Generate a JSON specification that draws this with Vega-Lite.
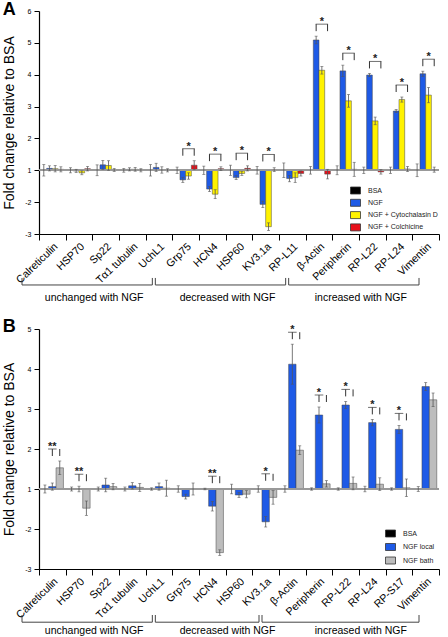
{
  "$schema": "https://vega.github.io/schema/vega-lite/v6.json",
  "background": "white",
  "padding": {"left": 2, "top": 0, "right": 0, "bottom": 0},
  "spacing": 13,
  "config": {
    "font": "Liberation Sans",
    "view": {"stroke": null},
    "axis": {"domainColor": "black", "tickColor": "black", "labelColor": "black", "titleColor": "black", "grid": false, "labelFont": "Liberation Sans", "titleFont": "Liberation Sans", "labelOverlap": false},
    "legend": {"labelFont": "Liberation Sans"},
    "title": {"font": "Liberation Sans", "color": "black"}
  },
  "resolve": {"scale": {"x": "independent", "y": "independent", "color": "independent", "xOffset": "independent"}, "legend": {"color": "independent"}},
  "datasets": {
    "a": [
      {"cat": "Calreticulin", "series": "BSA", "value": 1, "lo": 0.82, "hi": 1.18},
      {"cat": "Calreticulin", "series": "NGF", "value": 1.06, "lo": 0.98, "hi": 1.14},
      {"cat": "Calreticulin", "series": "NGF + Cytochalasin D", "value": 1.05, "lo": 0.95, "hi": 1.15},
      {"cat": "Calreticulin", "series": "NGF + Colchicine", "value": 1.03, "lo": 0.95, "hi": 1.11},
      {"cat": "HSP70", "series": "BSA", "value": 1, "lo": 0.92, "hi": 1.08},
      {"cat": "HSP70", "series": "NGF", "value": 0.98, "lo": 0.93, "hi": 1.03},
      {"cat": "HSP70", "series": "NGF + Cytochalasin D", "value": 0.92, "lo": 0.86, "hi": 0.98},
      {"cat": "HSP70", "series": "NGF + Colchicine", "value": 1.05, "lo": 0.98, "hi": 1.12},
      {"cat": "Sp22", "series": "BSA", "value": 1, "lo": 0.83, "hi": 1.17},
      {"cat": "Sp22", "series": "NGF", "value": 1.17, "lo": 1.03, "hi": 1.31},
      {"cat": "Sp22", "series": "NGF + Cytochalasin D", "value": 1.15, "lo": 1.0, "hi": 1.3},
      {"cat": "Sp22", "series": "NGF + Colchicine", "value": 1.01, "lo": 0.96, "hi": 1.06},
      {"cat": "Tα1 tubulin", "series": "BSA", "value": 1, "lo": 0.94, "hi": 1.06},
      {"cat": "Tα1 tubulin", "series": "NGF", "value": 1.03, "lo": 0.98, "hi": 1.08},
      {"cat": "Tα1 tubulin", "series": "NGF + Cytochalasin D", "value": 1.03, "lo": 0.97, "hi": 1.09},
      {"cat": "Tα1 tubulin", "series": "NGF + Colchicine", "value": 1.0, "lo": 0.95, "hi": 1.05},
      {"cat": "UchL1", "series": "BSA", "value": 1, "lo": 0.82, "hi": 1.18},
      {"cat": "UchL1", "series": "NGF", "value": 1.09, "lo": 0.96, "hi": 1.22},
      {"cat": "UchL1", "series": "NGF + Cytochalasin D", "value": 1.01, "lo": 0.91, "hi": 1.11},
      {"cat": "UchL1", "series": "NGF + Colchicine", "value": 1.0, "lo": 0.95, "hi": 1.05},
      {"cat": "Grp75", "series": "BSA", "value": 1, "lo": 0.9, "hi": 1.1},
      {"cat": "Grp75", "series": "NGF", "value": 0.7, "lo": 0.62, "hi": 0.78, "sig": "*"},
      {"cat": "Grp75", "series": "NGF + Cytochalasin D", "value": 0.82, "lo": 0.72, "hi": 0.92},
      {"cat": "Grp75", "series": "NGF + Colchicine", "value": 1.16, "lo": 1.02, "hi": 1.3},
      {"cat": "HCN4", "series": "BSA", "value": 1, "lo": 0.87, "hi": 1.13},
      {"cat": "HCN4", "series": "NGF", "value": 0.41, "lo": 0.33, "hi": 0.49, "sig": "*"},
      {"cat": "HCN4", "series": "NGF + Cytochalasin D", "value": 0.25, "lo": 0.11, "hi": 0.39},
      {"cat": "HCN4", "series": "NGF + Colchicine", "value": 1.05, "lo": 0.99, "hi": 1.11},
      {"cat": "HSP60", "series": "BSA", "value": 1, "lo": 0.84, "hi": 1.16},
      {"cat": "HSP60", "series": "NGF", "value": 0.77, "lo": 0.71, "hi": 0.83, "sig": "*"},
      {"cat": "HSP60", "series": "NGF + Cytochalasin D", "value": 0.9, "lo": 0.84, "hi": 0.96},
      {"cat": "HSP60", "series": "NGF + Colchicine", "value": 1.06, "lo": 0.98, "hi": 1.14},
      {"cat": "KV3.1a", "series": "BSA", "value": 1, "lo": 0.88, "hi": 1.12},
      {"cat": "KV3.1a", "series": "NGF", "value": -0.07, "lo": -0.17, "hi": 0.03, "sig": "*"},
      {"cat": "KV3.1a", "series": "NGF + Cytochalasin D", "value": -0.77, "lo": -0.89, "hi": -0.65},
      {"cat": "KV3.1a", "series": "NGF + Colchicine", "value": 1.02, "lo": 0.96, "hi": 1.08},
      {"cat": "RP-L11", "series": "BSA", "value": 1, "lo": 0.77, "hi": 1.23},
      {"cat": "RP-L11", "series": "NGF", "value": 0.74, "lo": 0.64, "hi": 0.84},
      {"cat": "RP-L11", "series": "NGF + Cytochalasin D", "value": 0.77, "lo": 0.62, "hi": 0.92},
      {"cat": "RP-L11", "series": "NGF + Colchicine", "value": 0.9, "lo": 0.82, "hi": 0.98},
      {"cat": "β-Actin", "series": "BSA", "value": 1, "lo": 0.88, "hi": 1.12},
      {"cat": "β-Actin", "series": "NGF", "value": 5.09, "lo": 4.97, "hi": 5.21, "sig": "*"},
      {"cat": "β-Actin", "series": "NGF + Cytochalasin D", "value": 4.14, "lo": 4.02, "hi": 4.26},
      {"cat": "β-Actin", "series": "NGF + Colchicine", "value": 0.88, "lo": 0.73, "hi": 1.03},
      {"cat": "Peripherin", "series": "BSA", "value": 1, "lo": 0.86, "hi": 1.14},
      {"cat": "Peripherin", "series": "NGF", "value": 4.12, "lo": 3.94, "hi": 4.3, "sig": "*"},
      {"cat": "Peripherin", "series": "NGF + Cytochalasin D", "value": 3.18, "lo": 2.98, "hi": 3.38},
      {"cat": "Peripherin", "series": "NGF + Colchicine", "value": 1.03, "lo": 0.81, "hi": 1.25},
      {"cat": "RP-L22", "series": "BSA", "value": 1, "lo": 0.9, "hi": 1.1},
      {"cat": "RP-L22", "series": "NGF", "value": 3.99, "lo": 3.94, "hi": 4.04, "sig": "*"},
      {"cat": "RP-L22", "series": "NGF + Cytochalasin D", "value": 2.55, "lo": 2.43, "hi": 2.67},
      {"cat": "RP-L22", "series": "NGF + Colchicine", "value": 0.95, "lo": 0.88, "hi": 1.02},
      {"cat": "RP-L24", "series": "BSA", "value": 1, "lo": 0.9, "hi": 1.1},
      {"cat": "RP-L24", "series": "NGF", "value": 2.86, "lo": 2.81, "hi": 2.91, "sig": "*"},
      {"cat": "RP-L24", "series": "NGF + Cytochalasin D", "value": 3.22, "lo": 3.14, "hi": 3.3},
      {"cat": "RP-L24", "series": "NGF + Colchicine", "value": 1.04, "lo": 0.96, "hi": 1.12},
      {"cat": "Vimentin", "series": "BSA", "value": 1, "lo": 0.8, "hi": 1.2},
      {"cat": "Vimentin", "series": "NGF", "value": 4.03, "lo": 3.95, "hi": 4.11, "sig": "*"},
      {"cat": "Vimentin", "series": "NGF + Cytochalasin D", "value": 3.36, "lo": 3.12, "hi": 3.6},
      {"cat": "Vimentin", "series": "NGF + Colchicine", "value": 1.02, "lo": 0.94, "hi": 1.1}
    ],
    "b": [
      {"cat": "Calreticulin", "series": "BSA", "value": 1, "lo": 0.9, "hi": 1.1},
      {"cat": "Calreticulin", "series": "NGF local", "value": 1.06, "lo": 0.97, "hi": 1.15, "sig": "**"},
      {"cat": "Calreticulin", "series": "NGF bath", "value": 1.53, "lo": 1.36, "hi": 1.7},
      {"cat": "HSP70", "series": "BSA", "value": 1, "lo": 0.95, "hi": 1.05},
      {"cat": "HSP70", "series": "NGF local", "value": 1.0, "lo": 0.93, "hi": 1.07, "sig": "**"},
      {"cat": "HSP70", "series": "NGF bath", "value": 0.52, "lo": 0.34, "hi": 0.7},
      {"cat": "Sp22", "series": "BSA", "value": 1, "lo": 0.95, "hi": 1.05},
      {"cat": "Sp22", "series": "NGF local", "value": 1.1, "lo": 0.93, "hi": 1.27},
      {"cat": "Sp22", "series": "NGF bath", "value": 1.06, "lo": 0.98, "hi": 1.14},
      {"cat": "Tα1 tubulin", "series": "BSA", "value": 1, "lo": 0.95, "hi": 1.05},
      {"cat": "Tα1 tubulin", "series": "NGF local", "value": 1.08, "lo": 1.0, "hi": 1.16},
      {"cat": "Tα1 tubulin", "series": "NGF bath", "value": 1.04, "lo": 0.94, "hi": 1.14},
      {"cat": "UchL1", "series": "BSA", "value": 1, "lo": 0.97, "hi": 1.03},
      {"cat": "UchL1", "series": "NGF local", "value": 1.06, "lo": 0.97, "hi": 1.15},
      {"cat": "UchL1", "series": "NGF bath", "value": 1.02, "lo": 0.82, "hi": 1.22},
      {"cat": "Grp75", "series": "BSA", "value": 1, "lo": 0.92, "hi": 1.08},
      {"cat": "Grp75", "series": "NGF local", "value": 0.81, "lo": 0.75, "hi": 0.87},
      {"cat": "Grp75", "series": "NGF bath", "value": 1.0, "lo": 0.85, "hi": 1.15},
      {"cat": "HCN4", "series": "BSA", "value": 1, "lo": 0.98, "hi": 1.02},
      {"cat": "HCN4", "series": "NGF local", "value": 0.57, "lo": 0.45, "hi": 0.69, "sig": "**"},
      {"cat": "HCN4", "series": "NGF bath", "value": -0.59, "lo": -0.66, "hi": -0.52},
      {"cat": "HSP60", "series": "BSA", "value": 1, "lo": 0.88, "hi": 1.12},
      {"cat": "HSP60", "series": "NGF local", "value": 0.85, "lo": 0.79, "hi": 0.91},
      {"cat": "HSP60", "series": "NGF bath", "value": 0.87, "lo": 0.78, "hi": 0.96},
      {"cat": "KV3.1a", "series": "BSA", "value": 1, "lo": 0.92, "hi": 1.08},
      {"cat": "KV3.1a", "series": "NGF local", "value": 0.18, "lo": 0.05, "hi": 0.31, "sig": "*"},
      {"cat": "KV3.1a", "series": "NGF bath", "value": 0.79, "lo": 0.62, "hi": 0.96},
      {"cat": "β-Actin", "series": "BSA", "value": 1, "lo": 0.92, "hi": 1.08},
      {"cat": "β-Actin", "series": "NGF local", "value": 4.12, "lo": 3.62, "hi": 4.62, "sig": "*"},
      {"cat": "β-Actin", "series": "NGF bath", "value": 1.97, "lo": 1.86, "hi": 2.08},
      {"cat": "Peripherin", "series": "BSA", "value": 1, "lo": 0.97, "hi": 1.03},
      {"cat": "Peripherin", "series": "NGF local", "value": 2.85, "lo": 2.65, "hi": 3.05, "sig": "*"},
      {"cat": "Peripherin", "series": "NGF bath", "value": 1.13, "lo": 1.05, "hi": 1.21},
      {"cat": "RP-L22", "series": "BSA", "value": 1, "lo": 0.97, "hi": 1.03},
      {"cat": "RP-L22", "series": "NGF local", "value": 3.1, "lo": 3.01, "hi": 3.19, "sig": "*"},
      {"cat": "RP-L22", "series": "NGF bath", "value": 1.14, "lo": 0.98, "hi": 1.3},
      {"cat": "RP-L24", "series": "BSA", "value": 1, "lo": 0.93, "hi": 1.07},
      {"cat": "RP-L24", "series": "NGF local", "value": 2.66, "lo": 2.58, "hi": 2.74, "sig": "*"},
      {"cat": "RP-L24", "series": "NGF bath", "value": 1.12, "lo": 0.96, "hi": 1.28},
      {"cat": "RP-S17", "series": "BSA", "value": 1, "lo": 0.97, "hi": 1.03},
      {"cat": "RP-S17", "series": "NGF local", "value": 2.49, "lo": 2.39, "hi": 2.59, "sig": "*"},
      {"cat": "RP-S17", "series": "NGF bath", "value": 1.03, "lo": 0.81, "hi": 1.25},
      {"cat": "Vimentin", "series": "BSA", "value": 1, "lo": 0.94, "hi": 1.06},
      {"cat": "Vimentin", "series": "NGF local", "value": 3.56, "lo": 3.46, "hi": 3.66},
      {"cat": "Vimentin", "series": "NGF bath", "value": 3.23, "lo": 3.06, "hi": 3.4}
    ],
    "groupsA": [
      {"group": "unchanged with NGF", "first": "Calreticulin", "last": "UchL1", "mid": "Sp22"},
      {"group": "decreased with NGF", "first": "Grp75", "last": "RP-L11", "mid": "HSP60"},
      {"group": "increased with NGF", "first": "β-Actin", "last": "Vimentin", "mid": "RP-L22"}
    ],
    "groupsB": [
      {"group": "unchanged with NGF", "first": "Calreticulin", "last": "UchL1", "mid": "Sp22"},
      {"group": "decreased with NGF", "first": "Grp75", "last": "KV3.1a", "mid": "HSP60"},
      {"group": "increased with NGF", "first": "β-Actin", "last": "Vimentin", "mid": "RP-L24"}
    ]
  },
  "vconcat": [
    {
      "width": 400,
      "height": 223,
      "title": {"text": "A", "anchor": "start", "frame": "bounds", "fontSize": 18, "fontWeight": "bold", "offset": -11.5},
      "data": {"name": "a"},
      "layer": [
        {
          "transform": [{"filter": "datum.series !== 'BSA'"}],
          "mark": {"type": "bar", "stroke": "#444444", "strokeWidth": 0.5},
          "encoding": {
            "x": {"field": "cat", "type": "nominal",
              "scale": {"domain": ["Calreticulin", "HSP70", "Sp22", "Tα1 tubulin", "UchL1", "Grp75", "HCN4", "HSP60", "KV3.1a", "RP-L11", "β-Actin", "Peripherin", "RP-L22", "RP-L24", "Vimentin"], "paddingInner": 0, "paddingOuter": 0},
              "axis": {"title": null, "labelAngle": -44, "labelFontSize": 10.7, "tickBand": "extent", "tickSize": 6, "labelPadding": 1, "domainWidth": 1.2}},
            "xOffset": {"field": "series", "type": "nominal", "scale": {"domain": ["BSA", "NGF", "NGF + Cytochalasin D", "NGF + Colchicine"], "paddingInner": 0, "paddingOuter": 0.34}},
            "y": {"field": "value", "type": "quantitative",
              "scale": {"domain": [-1, 6], "nice": false, "zero": false},
              "axis": {"title": "Fold change relative to BSA", "values": [-1, 0, 1, 2, 3, 4, 5, 6], "tickCount": 20, "labelExpr": "datum.value <= 0 ? datum.value - 2 : datum.value", "labelOverlap": false, "labelFontSize": 7, "tickSize": 5, "labelPadding": 3, "titleFontSize": 14, "titleFontWeight": "normal", "titlePadding": 8, "domainWidth": 1.2}},
            "y2": {"datum": 1},
            "color": {"field": "series", "type": "nominal",
              "scale": {"domain": ["BSA", "NGF", "NGF + Cytochalasin D", "NGF + Colchicine"], "range": ["#000000", "#1E5AE6", "#FFF200", "#E8101A"]},
              "legend": {"title": null, "orient": "none", "legendX": 311, "legendY": 174, "symbolType": "M-1,-0.7H1V0.7H-1Z", "symbolSize": 100, "symbolStrokeColor": "#333333", "symbolStrokeWidth": 0.8, "labelFontSize": 7, "labelColor": "#222222", "labelOffset": 7, "rowPadding": 1.3, "padding": 0}}
          }
        },
        {
          "mark": {"type": "rule", "color": "#999999", "strokeWidth": 1},
          "encoding": {"y": {"datum": 1, "type": "quantitative"}}
        },
        {
          "mark": {"type": "rule", "color": "#555555", "strokeWidth": 0.8},
          "encoding": {
            "x": {"field": "cat", "type": "nominal"},
            "xOffset": {"field": "series", "type": "nominal"},
            "y": {"field": "lo", "type": "quantitative"},
            "y2": {"field": "hi"}
          }
        },
        {
          "mark": {"type": "tick", "orient": "horizontal", "size": 3, "thickness": 0.8, "color": "#555555"},
          "encoding": {
            "x": {"field": "cat", "type": "nominal"},
            "xOffset": {"field": "series", "type": "nominal"},
            "y": {"field": "lo", "type": "quantitative"}
          }
        },
        {
          "mark": {"type": "tick", "orient": "horizontal", "size": 3, "thickness": 0.8, "color": "#555555"},
          "encoding": {
            "x": {"field": "cat", "type": "nominal"},
            "xOffset": {"field": "series", "type": "nominal"},
            "y": {"field": "hi", "type": "quantitative"}
          }
        },
        {
          "transform": [{"joinaggregate": [{"op": "max", "field": "hi", "as": "top"}], "groupby": ["cat"]}, {"filter": "datum.sig"}],
          "mark": {"type": "tick", "orient": "horizontal", "size": 12.4, "thickness": 1, "color": "#333333", "yOffset": -12},
          "encoding": {
            "x": {"field": "cat", "type": "nominal"},
            "xOffset": {"datum": "NGF + Cytochalasin D"},
            "y": {"field": "top", "type": "quantitative"}
          }
        },
        {
          "transform": [{"joinaggregate": [{"op": "max", "field": "hi", "as": "top"}], "groupby": ["cat"]}, {"filter": "datum.sig"}],
          "mark": {"type": "rule", "strokeWidth": 1, "color": "#333333", "yOffset": -12, "y2Offset": -5},
          "encoding": {
            "x": {"field": "cat", "type": "nominal"},
            "xOffset": {"datum": "NGF"},
            "y": {"field": "top", "type": "quantitative"},
            "y2": {"field": "top"}
          }
        },
        {
          "transform": [{"joinaggregate": [{"op": "max", "field": "hi", "as": "top"}], "groupby": ["cat"]}, {"filter": "datum.sig"}],
          "mark": {"type": "rule", "strokeWidth": 1, "color": "#333333", "yOffset": -12, "y2Offset": -5},
          "encoding": {
            "x": {"field": "cat", "type": "nominal"},
            "xOffset": {"datum": "NGF + Colchicine"},
            "y": {"field": "top", "type": "quantitative"},
            "y2": {"field": "top"}
          }
        },
        {
          "transform": [{"joinaggregate": [{"op": "max", "field": "hi", "as": "top"}], "groupby": ["cat"]}, {"filter": "datum.sig"}],
          "mark": {"type": "text", "fontSize": 11, "fontWeight": "bold", "baseline": "alphabetic", "yOffset": -12, "dy": 1, "color": "#222222"},
          "encoding": {
            "x": {"field": "cat", "type": "nominal"},
            "xOffset": {"datum": "NGF + Cytochalasin D"},
            "y": {"field": "top", "type": "quantitative"},
            "text": {"field": "sig"}
          }
        },
        {
          "data": {"name": "groupsA"},
          "mark": {"type": "rule", "strokeWidth": 1, "color": "#444444", "xOffset": -17, "x2Offset": -20},
          "encoding": {
            "x": {"field": "first", "type": "nominal", "bandPosition": 0},
            "x2": {"field": "last", "bandPosition": 1},
            "y": {"datum": -2.6, "type": "quantitative"}
          }
        },
        {
          "data": {"name": "groupsA"},
          "mark": {"type": "rule", "strokeWidth": 1, "color": "#444444", "xOffset": -17},
          "encoding": {
            "x": {"field": "first", "type": "nominal", "bandPosition": 0},
            "y": {"datum": -2.6, "type": "quantitative"},
            "y2": {"datum": -2.38}
          }
        },
        {
          "data": {"name": "groupsA"},
          "mark": {"type": "rule", "strokeWidth": 1, "color": "#444444", "xOffset": -20},
          "encoding": {
            "x": {"field": "last", "type": "nominal", "bandPosition": 1},
            "y": {"datum": -2.6, "type": "quantitative"},
            "y2": {"datum": -2.38}
          }
        },
        {
          "data": {"name": "groupsA"},
          "mark": {"type": "text", "fontSize": 10.5, "baseline": "middle", "align": "center", "dx": -11.5, "color": "black"},
          "encoding": {
            "x": {"field": "mid", "type": "nominal"},
            "y": {"datum": -3.01, "type": "quantitative"},
            "text": {"field": "group"}
          }
        }
      ]
    },
    {
      "width": 400,
      "height": 240,
      "title": {"text": "B", "anchor": "start", "frame": "bounds", "fontSize": 18, "fontWeight": "bold", "offset": -11.5},
      "data": {"name": "b"},
      "layer": [
        {
          "transform": [{"filter": "datum.series !== 'BSA'"}],
          "mark": {"type": "bar", "stroke": "#444444", "strokeWidth": 0.5},
          "encoding": {
            "x": {"field": "cat", "type": "nominal",
              "scale": {"domain": ["Calreticulin", "HSP70", "Sp22", "Tα1 tubulin", "UchL1", "Grp75", "HCN4", "HSP60", "KV3.1a", "β-Actin", "Peripherin", "RP-L22", "RP-L24", "RP-S17", "Vimentin"], "paddingInner": 0, "paddingOuter": 0},
              "axis": {"title": null, "labelAngle": -44, "labelFontSize": 10.7, "tickBand": "extent", "tickSize": 6, "labelPadding": 1, "domainWidth": 1.2}},
            "xOffset": {"field": "series", "type": "nominal", "scale": {"domain": ["BSA", "NGF local", "NGF bath"], "paddingInner": 0, "paddingOuter": 0.3}},
            "y": {"field": "value", "type": "quantitative",
              "scale": {"domain": [-1, 5], "nice": false, "zero": false},
              "axis": {"title": "Fold change relative to BSA", "values": [-1, 0, 1, 2, 3, 4, 5], "tickCount": 20, "labelExpr": "datum.value <= 0 ? datum.value - 2 : datum.value", "labelOverlap": false, "labelFontSize": 7, "tickSize": 5, "labelPadding": 3, "titleFontSize": 14, "titleFontWeight": "normal", "titlePadding": 8, "domainWidth": 1.2}},
            "y2": {"datum": 1},
            "color": {"field": "series", "type": "nominal",
              "scale": {"domain": ["BSA", "NGF local", "NGF bath"], "range": ["#000000", "#1E5AE6", "#BDBDBD"]},
              "legend": {"title": null, "orient": "none", "legendX": 346, "legendY": 199, "symbolType": "M-1,-0.7H1V0.7H-1Z", "symbolSize": 100, "symbolStrokeColor": "#333333", "symbolStrokeWidth": 0.8, "labelFontSize": 7, "labelColor": "#222222", "labelOffset": 7, "rowPadding": 2.5, "padding": 0}}
          }
        },
        {
          "mark": {"type": "rule", "color": "#999999", "strokeWidth": 1},
          "encoding": {"y": {"datum": 1, "type": "quantitative"}}
        },
        {
          "mark": {"type": "rule", "color": "#555555", "strokeWidth": 0.8},
          "encoding": {
            "x": {"field": "cat", "type": "nominal"},
            "xOffset": {"field": "series", "type": "nominal"},
            "y": {"field": "lo", "type": "quantitative"},
            "y2": {"field": "hi"}
          }
        },
        {
          "mark": {"type": "tick", "orient": "horizontal", "size": 3, "thickness": 0.8, "color": "#555555"},
          "encoding": {
            "x": {"field": "cat", "type": "nominal"},
            "xOffset": {"field": "series", "type": "nominal"},
            "y": {"field": "lo", "type": "quantitative"}
          }
        },
        {
          "mark": {"type": "tick", "orient": "horizontal", "size": 3, "thickness": 0.8, "color": "#555555"},
          "encoding": {
            "x": {"field": "cat", "type": "nominal"},
            "xOffset": {"field": "series", "type": "nominal"},
            "y": {"field": "hi", "type": "quantitative"}
          }
        },
        {
          "transform": [{"joinaggregate": [{"op": "max", "field": "hi", "as": "top"}], "groupby": ["cat"]}, {"filter": "datum.sig"}],
          "mark": {"type": "tick", "orient": "horizontal", "size": 8.6, "thickness": 1, "color": "#333333", "yOffset": -12},
          "encoding": {
            "x": {"field": "cat", "type": "nominal"},
            "xOffset": {"datum": "NGF local", "bandPosition": 1},
            "y": {"field": "top", "type": "quantitative"}
          }
        },
        {
          "transform": [{"joinaggregate": [{"op": "max", "field": "hi", "as": "top"}], "groupby": ["cat"]}, {"filter": "datum.sig"}],
          "mark": {"type": "rule", "strokeWidth": 1, "color": "#333333", "yOffset": -12, "y2Offset": -5},
          "encoding": {
            "x": {"field": "cat", "type": "nominal"},
            "xOffset": {"datum": "NGF local"},
            "y": {"field": "top", "type": "quantitative"},
            "y2": {"field": "top"}
          }
        },
        {
          "transform": [{"joinaggregate": [{"op": "max", "field": "hi", "as": "top"}], "groupby": ["cat"]}, {"filter": "datum.sig"}],
          "mark": {"type": "rule", "strokeWidth": 1, "color": "#333333", "yOffset": -12, "y2Offset": -5},
          "encoding": {
            "x": {"field": "cat", "type": "nominal"},
            "xOffset": {"datum": "NGF bath"},
            "y": {"field": "top", "type": "quantitative"},
            "y2": {"field": "top"}
          }
        },
        {
          "transform": [{"joinaggregate": [{"op": "max", "field": "hi", "as": "top"}], "groupby": ["cat"]}, {"filter": "datum.sig"}],
          "mark": {"type": "text", "fontSize": 11, "fontWeight": "bold", "baseline": "alphabetic", "yOffset": -12, "dy": 1, "color": "#222222"},
          "encoding": {
            "x": {"field": "cat", "type": "nominal"},
            "xOffset": {"datum": "NGF local", "bandPosition": 1},
            "y": {"field": "top", "type": "quantitative"},
            "text": {"field": "sig"}
          }
        },
        {
          "data": {"name": "groupsB"},
          "mark": {"type": "rule", "strokeWidth": 1, "color": "#444444", "xOffset": -17, "x2Offset": -20},
          "encoding": {
            "x": {"field": "first", "type": "nominal", "bandPosition": 0},
            "x2": {"field": "last", "bandPosition": 1},
            "y": {"datum": -2.33, "type": "quantitative"}
          }
        },
        {
          "data": {"name": "groupsB"},
          "mark": {"type": "rule", "strokeWidth": 1, "color": "#444444", "xOffset": -17},
          "encoding": {
            "x": {"field": "first", "type": "nominal", "bandPosition": 0},
            "y": {"datum": -2.33, "type": "quantitative"},
            "y2": {"datum": -2.15}
          }
        },
        {
          "data": {"name": "groupsB"},
          "mark": {"type": "rule", "strokeWidth": 1, "color": "#444444", "xOffset": -20},
          "encoding": {
            "x": {"field": "last", "type": "nominal", "bandPosition": 1},
            "y": {"datum": -2.33, "type": "quantitative"},
            "y2": {"datum": -2.15}
          }
        },
        {
          "data": {"name": "groupsB"},
          "mark": {"type": "text", "fontSize": 10.5, "baseline": "middle", "align": "center", "dx": -11.5, "color": "black"},
          "encoding": {
            "x": {"field": "mid", "type": "nominal"},
            "y": {"datum": -2.55, "type": "quantitative"},
            "text": {"field": "group"}
          }
        }
      ]
    }
  ]
}
